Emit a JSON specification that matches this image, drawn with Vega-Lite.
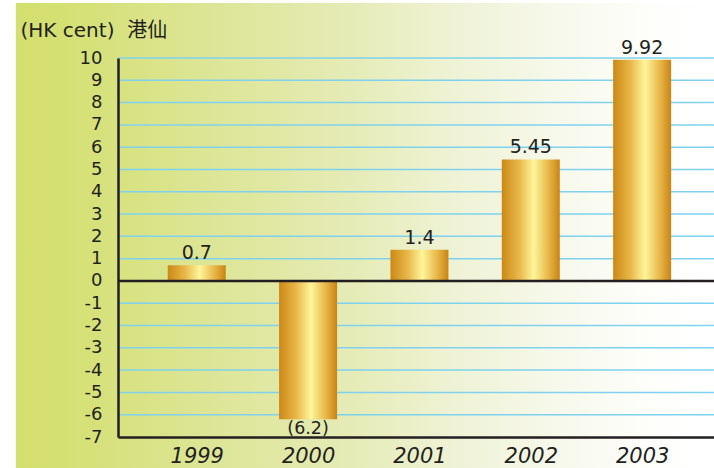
{
  "$schema": "https://vega.github.io/schema/vega-lite/v6.json",
  "width": 596,
  "height": 379,
  "autosize": {"type": "none"},
  "padding": {"left": 118, "top": 58, "right": 0, "bottom": 31},
  "background": "#ffffff",
  "config": {
    "view": {"stroke": null},
    "font": "DejaVu Sans",
    "locale": {"number": {"decimal": ".", "thousands": ",", "grouping": [3], "currency": ["$", ""], "minus": "-"}}
  },
  "layer": [
    {
      "data": {"values": [{}]},
      "mark": {
        "type": "rect",
        "clip": false,
        "fill": {
          "gradient": "linear", "x1": 0, "x2": 1, "y1": 0, "y2": 0,
          "stops": [
            {"offset": 0, "color": "#d3df6e"},
            {"offset": 0.07, "color": "#d5e073"},
            {"offset": 0.27, "color": "#dce594"},
            {"offset": 0.48, "color": "#e5ebb5"},
            {"offset": 0.62, "color": "#eef2d3"},
            {"offset": 0.77, "color": "#f6f8e9"},
            {"offset": 0.9, "color": "#fdfdf9"},
            {"offset": 1, "color": "#ffffff"}
          ]
        }
      },
      "encoding": {
        "x": {"datum": 1997.3752, "type": "quantitative"},
        "x2": {"datum": 2003.6004},
        "y": {"datum": 12.47, "type": "quantitative"},
        "y2": {"datum": -8.6}
      }
    },
    {
      "data": {"values": [{"g": -6}, {"g": -5}, {"g": -4}, {"g": -3}, {"g": -2}, {"g": -1}, {"g": 1}, {"g": 2}, {"g": 3}, {"g": 4}, {"g": 5}, {"g": 6}, {"g": 7}, {"g": 8}, {"g": 9}, {"g": 10}]},
      "mark": {"type": "rule", "color": "#7fd2ef", "strokeWidth": 1.5},
      "encoding": {
        "y": {"field": "g", "type": "quantitative"}
      }
    },
    {
      "data": {
        "values": [
          {"year": 1999, "value": 0.7, "label": "0.7"},
          {"year": 2000, "value": -6.2, "label": "(6.2)"},
          {"year": 2001, "value": 1.4, "label": "1.4"},
          {"year": 2002, "value": 5.45, "label": "5.45"},
          {"year": 2003, "value": 9.92, "label": "9.92"}
        ]
      },
      "mark": {
        "type": "bar",
        "size": 58,
        "color": {
          "gradient": "linear", "x1": 0, "x2": 1, "y1": 0, "y2": 0,
          "stops": [
            {"offset": 0, "color": "#cc8815"},
            {"offset": 0.3, "color": "#e8b84a"},
            {"offset": 0.55, "color": "#fff59a"},
            {"offset": 0.8, "color": "#e8b84a"},
            {"offset": 1, "color": "#c98414"}
          ]
        }
      },
      "encoding": {
        "x": {
          "field": "year", "type": "quantitative",
          "scale": {"domain": [1998.3377, 2003.6004], "nice": false, "zero": false},
          "axis": {
            "title": null, "values": [1999, 2000, 2001, 2002, 2003], "format": "d",
            "tickCount": 10,
            "labelAngle": 0, "ticks": false, "grid": false, "zindex": 1,
            "domainColor": "#231f20", "domainWidth": 2.5,
            "labelFontSize": 21, "labelFontStyle": "italic", "labelColor": "#231f20",
            "labelPadding": 8, "labelFont": "DejaVu Sans"
          }
        },
        "y": {
          "field": "value", "type": "quantitative",
          "scale": {"domain": [-7, 10], "nice": false, "zero": false},
          "axis": {
            "title": "(HK cent)\u00a0\u00a0港仙",
            "titleAngle": 0, "titleAlign": "left", "titleBaseline": "alphabetic",
            "titleX": -98, "titleY": -22,
            "titleFontSize": 20, "titleFontWeight": "normal", "titleColor": "#231f20",
            "titleFont": "DejaVu Sans, Noto Sans CJK TC",
            "values": [-7,-6,-5,-4,-3,-2,-1,0,1,2,3,4,5,6,7,8,9,10],
            "tickCount": 30,
            "format": "d",
            "labelOverlap": false,
            "ticks": false, "grid": false, "zindex": 1,
            "domainColor": "#231f20", "domainWidth": 2.5,
            "labelFontSize": 18, "labelColor": "#231f20", "labelPadding": 16,
            "labelFont": "DejaVu Sans"
          }
        }
      }
    },
    {
      "data": {"values": [{"zero": 0}]},
      "mark": {"type": "rule", "color": "#231f20", "strokeWidth": 2.5},
      "encoding": {
        "y": {"field": "zero", "type": "quantitative"}
      }
    },
    {
      "data": {
        "values": [
          {"year": 1999, "value": 0.7, "label": "0.7"},
          {"year": 2001, "value": 1.4, "label": "1.4"},
          {"year": 2002, "value": 5.45, "label": "5.45"},
          {"year": 2003, "value": 9.92, "label": "9.92"}
        ]
      },
      "mark": {"type": "text", "fontSize": 19, "color": "#231f20", "baseline": "middle", "dy": -12, "font": "DejaVu Sans"},
      "encoding": {
        "x": {"field": "year", "type": "quantitative"},
        "y": {"field": "value", "type": "quantitative"},
        "text": {"field": "label"}
      }
    },
    {
      "data": {
        "values": [
          {"year": 2000, "value": -6.2, "label": "(6.2)"}
        ]
      },
      "mark": {"type": "text", "fontSize": 17.5, "color": "#231f20", "baseline": "middle", "dy": 10, "font": "DejaVu Sans"},
      "encoding": {
        "x": {"field": "year", "type": "quantitative"},
        "y": {"field": "value", "type": "quantitative"},
        "text": {"field": "label"}
      }
    }
  ]
}
